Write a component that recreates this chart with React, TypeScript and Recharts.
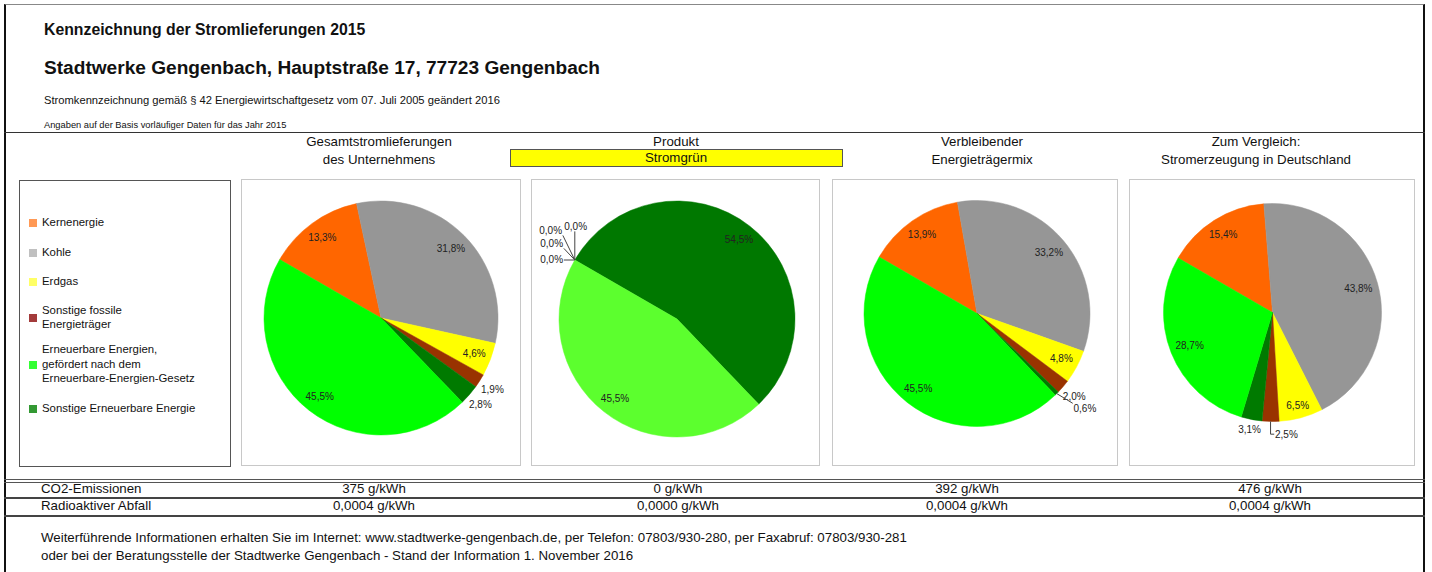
import { Cell, Pie, PieChart } from 'recharts'

const FONT = '"Liberation Sans", Arial, Helvetica, sans-serif'

// categories in legend order
const categories = [
  'Kernenergie',
  'Kohle',
  'Erdgas',
  'Sonstige fossile\nEnergieträger',
  'Erneuerbare Energien,\ngefördert nach dem\nErneuerbare-Energien-Gesetz',
  'Sonstige Erneuerbare Energie',
]
const legendColors = ['#FF9955', '#C0C0C0', '#FFFF66', '#A33B3B', '#33FF33', '#339933']
const sliceColors = ['#FF6600', '#969696', '#FFFF00', '#993300', '#00FF00', '#007A00']
// order of the slices clockwise in the pies (sonstige EE comes before EEG there)
const sliceOrder = [0, 1, 2, 3, 5, 4]

const panelTitles = [
  'Gesamtstromlieferungen\ndes Unternehmens',
  'Produkt',
  'Verbleibender\nEnergieträgermix',
  'Zum Vergleich:\nStromerzeugung in Deutschland',
]
const productName = 'Stromgrün'

// shares in %, same order as categories
const gesamt = [13.3, 31.8, 4.6, 1.9, 45.5, 2.8]
const produkt = [0, 0, 0, 0, 45.5, 54.5]
const verbleibend = [13.9, 33.2, 4.8, 2.0, 45.5, 0.6]
const deutschland = [15.4, 43.8, 6.5, 2.5, 28.7, 3.1]

const co2 = [375, 0, 392, 476]
const waste = [0.0004, 0.0, 0.0004, 0.0004]

const fmtPct = (v: number) => v.toFixed(1).replace('.', ',') + '%'
const fmtCo2 = (v: number) => `${v} g/kWh`
const fmtWaste = (v: number) => v.toFixed(4).replace('.', ',') + ' g/kWh'

type Nudges = Record<number, [number, number]>

const panels: {
  values: number[]
  left: number
  width: number
  cx: number
  cy: number
  r: number
  colX: number
  valX: number
  nudges: Nudges
  colors?: Record<number, string>
}[] = [
  { values: gesamt, left: 241, width: 280, cx: 140, cy: 139, r: 117, colX: 379, valX: 374, nudges: {} },
  {
    values: produkt,
    left: 531,
    width: 289,
    cx: 146,
    cy: 140,
    r: 118,
    colX: 676,
    valX: 678,
    nudges: { 0: [-10, 7], 1: [-10, -9], 2: [-11, -22], 3: [14, -26] },
    colors: { 4: '#5CFF2E', 5: '#007800' },
  },
  { values: verbleibend, left: 832, width: 286, cx: 145, cy: 134.5, r: 113, colX: 982, valX: 967, nudges: { 5: [18, 4.5] } },
  { values: deutschland, left: 1129, width: 286, cx: 143.5, cy: 133.5, r: 109, colX: 1256, valX: 1270, nudges: { 3: [16, 4.5] } },
]

const PANEL_TOP = 179
const PANEL_H = 287
const RAD = Math.PI / 180

function makeLabel(nudges: Nudges) {
  return (p: any) => {
    const { cx, cy, midAngle, outerRadius, value, index } = p
    const cat = p.payload?.cat ?? sliceOrder[index]
    const ux = Math.cos(-midAngle * RAD)
    const uy = Math.sin(-midAngle * RAD)
    const text = fmtPct(value)
    const w = text.length * 5.6
    const h = 10
    const ext = (Math.abs(ux) * w) / 2 + (Math.abs(uy) * h) / 2
    const inside = value >= 3.5
    const dist = inside ? outerRadius - 5 - ext : outerRadius + 3 + ext
    const n = nudges[cat]
    const x = cx + ux * dist + (n ? n[0] : 0)
    const y = cy + uy * dist + (n ? n[1] : 0)
    let leader = null
    if (n) {
      const ex = cx + ux * outerRadius
      const ey = cy + uy * outerRadius
      if (Math.abs(uy) > 0.9 && Math.abs(ex - x) > w / 2) {
        // elbow: straight down/up, then across to the label
        const lx = ex < x ? x - w / 2 - 1 : x + w / 2 + 1
        leader = (
          <polyline points={`${ex},${ey} ${ex},${y} ${lx},${y}`} fill="none" stroke="#444" strokeWidth={1} />
        )
      } else {
        const lx = Math.min(Math.max(ex, x - w / 2 - 1), x + w / 2 + 1)
        const ly = Math.min(Math.max(ey, y - h / 2), y + h / 2)
        leader = <line x1={ex} y1={ey} x2={lx} y2={ly} stroke="#444" strokeWidth={1} />
      }
    }
    return (
      <g key={`l-${index}`}>
        {leader}
        <text
          x={x}
          y={y}
          textAnchor="middle"
          dominantBaseline="central"
          fontSize={10}
          fontFamily={FONT}
          fill="#222"
        >
          {text}
        </text>
      </g>
    )
  }
}

function T({
  x,
  y,
  size,
  bold,
  center,
  children,
}: {
  x: number
  y: number
  size: number
  bold?: boolean
  center?: boolean
  children: React.ReactNode
}) {
  return (
    <div
      style={{
        position: 'absolute',
        left: x,
        top: y - size * 0.53,
        fontSize: size,
        lineHeight: `${size}px`,
        fontWeight: bold ? 'bold' : 'normal',
        whiteSpace: 'nowrap',
        transform: center ? 'translateX(-50%)' : undefined,
        color: '#111',
      }}
    >
      {children}
    </div>
  )
}

function HLine({ y, h = 1, color = '#333' }: { y: number; h?: number; color?: string }) {
  return <div style={{ position: 'absolute', left: 4, width: 1421, top: y, height: h, background: color }} />
}

export default function App() {
  const legendY = [223, 253, 282, 318, 365, 409]
  return (
    <div
      style={{
        position: 'absolute',
        left: 0,
        top: 0,
        width: 1432,
        height: 572,
        overflow: 'hidden',
        background: '#fff',
        fontFamily: FONT,
      }}
    >
      {/* outer frame */}
      <div
        style={{
          position: 'absolute',
          left: 4,
          top: 4,
          width: 1421,
          height: 600,
          border: '2px solid #111',
          borderTopColor: '#888',
          borderTopWidth: 1,
          boxSizing: 'border-box',
        }}
      />
      <T x={44} y={30} size={15.8} bold>
        Kennzeichnung der Stromlieferungen 2015
      </T>
      <T x={44} y={68} size={19.1} bold>
        Stadtwerke Gengenbach, Hauptstraße 17, 77723 Gengenbach
      </T>
      <T x={44} y={101} size={11.2}>
        Stromkennzeichnung gemäß § 42 Energiewirtschaftgesetz vom 07. Juli 2005 geändert 2016
      </T>
      <T x={44} y={126} size={9.3}>
        Angaben auf der Basis vorläufiger Daten für das Jahr 2015
      </T>
      <HLine y={132} />

      {/* column headers */}
      {panelTitles.map((t, i) => {
        const lines = t.split('\n')
        return lines.map((ln, j) => (
          <T key={`${i}-${j}`} x={panels[i].colX} y={142 + j * 18} size={13.3} center>
            {ln}
          </T>
        ))
      })}
      <div
        style={{
          position: 'absolute',
          left: 510,
          top: 149,
          width: 333,
          height: 18,
          background: '#FFFF00',
          border: '1px solid #555',
          boxSizing: 'border-box',
        }}
      />
      <T x={panels[1].colX} y={158} size={13.3} center>
        {productName}
      </T>

      {/* legend */}
      <div
        style={{
          position: 'absolute',
          left: 19,
          top: 180,
          width: 212,
          height: 287,
          border: '1px solid #555',
          boxSizing: 'border-box',
        }}
      />
      {categories.map((c, i) => {
        const lines = c.split('\n')
        const y0 = legendY[i] - ((lines.length - 1) * 14.5) / 2
        return (
          <div key={c}>
            <div
              style={{
                position: 'absolute',
                left: 29,
                top: legendY[i] - 4,
                width: 8,
                height: 8,
                background: legendColors[i],
              }}
            />
            {lines.map((ln, j) => (
              <T key={ln} x={42} y={y0 + j * 14.5} size={11.4}>
                {ln}
              </T>
            ))}
          </div>
        )
      })}

      {/* pies */}
      {panels.map((p, pi) => {
        const data = sliceOrder.map((ci) => ({ name: categories[ci], value: p.values[ci], cat: ci }))
        return (
          <div key={pi}>
            <div
              style={{
                position: 'absolute',
                left: p.left,
                top: PANEL_TOP,
                width: p.width,
                height: PANEL_H,
                border: '1px solid #C8C8C8',
                boxSizing: 'border-box',
              }}
            />
            <div style={{ position: 'absolute', left: p.left, top: PANEL_TOP }}>
              <PieChart width={p.width} height={PANEL_H} margin={{ top: 0, right: 0, bottom: 0, left: 0 }}>
                <Pie
                  data={data}
                  dataKey="value"
                  nameKey="name"
                  cx={p.cx}
                  cy={p.cy}
                  outerRadius={p.r}
                  startAngle={150}
                  endAngle={-210}
                  isAnimationActive={false}
                  labelLine={false}
                  label={makeLabel(p.nudges)}
                >
                  {data.map((d) => {
                    const col = p.colors?.[d.cat] ?? sliceColors[d.cat]
                    return <Cell key={d.cat} fill={col} stroke={col} strokeWidth={0.5} />
                  })}
                </Pie>
              </PieChart>
            </div>
          </div>
        )
      })}

      {/* table */}
      <HLine y={479} h={1} color="#555" />
      <HLine y={482} h={1} color="#555" />
      <HLine y={497} h={2} color="#444" />
      <HLine y={515} h={2} color="#444" />
      <T x={41} y={489} size={13.3}>
        CO2-Emissionen
      </T>
      <T x={41} y={506} size={13.3}>
        Radioaktiver Abfall
      </T>
      {panels.map((p, i) => (
        <div key={i}>
          <T x={p.valX} y={489} size={13.3} center>
            {fmtCo2(co2[i])}
          </T>
          <T x={p.valX} y={506} size={13.3} center>
            {fmtWaste(waste[i])}
          </T>
        </div>
      ))}

      <T x={41} y={538} size={13.3}>
        Weiterführende Informationen erhalten Sie im Internet: www.stadtwerke-gengenbach.de, per Telefon: 07803/930-280,
        per Faxabruf: 07803/930-281
      </T>
      <T x={41} y={556} size={13.3}>
        oder bei der Beratungsstelle der Stadtwerke Gengenbach - Stand der Information 1. November 2016
      </T>
    </div>
  )
}
